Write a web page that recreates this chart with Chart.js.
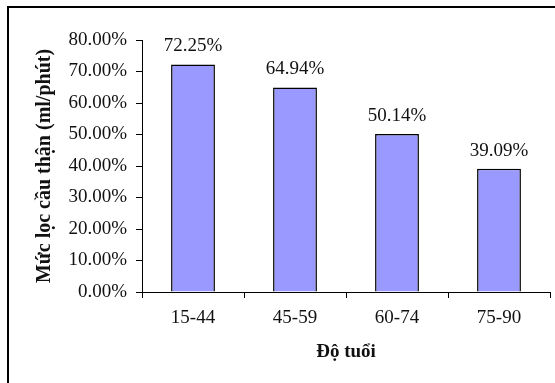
<!DOCTYPE html>
<html>
<head>
<meta charset="utf-8">
<script src="https://cdn.jsdelivr.net/npm/chart.js@4/dist/chart.umd.min.js"></script>
<style>
html,body{margin:0;padding:0;background:#fff;}
#wrap{width:555px;height:383px;position:relative;}
</style>
</head>
<body>
<div id="wrap"><canvas id="c" width="555" height="383"></canvas></div>
<script>
const categories = ['15-44', '45-59', '60-74', '75-90'];
const values = [72.25, 64.94, 50.14, 39.09];
const yTitle = 'Mức lọc cầu thận (ml/phút)';
const xTitle = 'Độ tuổi';

const FONT = "'Liberation Serif', 'Times New Roman', serif";
const INK = '#111';

const frame = {
  id: 'frame',
  beforeDraw(chart) {
    const ctx = chart.ctx;
    ctx.save();
    ctx.fillStyle = '#fff';
    ctx.fillRect(0, 0, chart.width, chart.height);
    ctx.strokeStyle = '#000';
    ctx.lineWidth = 2;
    ctx.beginPath();
    ctx.moveTo(8, chart.height + 2);
    ctx.lineTo(8, 7);
    ctx.lineTo(chart.width + 2, 7);
    ctx.stroke();
    ctx.restore();
  }
};

const valueLabels = {
  id: 'valueLabels',
  afterDatasetsDraw(chart) {
    const ctx = chart.ctx;
    const meta = chart.getDatasetMeta(0);
    ctx.save();
    ctx.font = '19px ' + FONT;
    ctx.fillStyle = INK;
    ctx.textAlign = 'center';
    ctx.textBaseline = 'middle';
    meta.data.forEach((bar, i) => {
      ctx.fillText(values[i].toFixed(2) + '%', bar.x, bar.y - 18);
    });
    ctx.restore();
  }
};

new Chart(document.getElementById('c'), {
  type: 'bar',
  data: {
    labels: categories,
    datasets: [{
      data: values,
      backgroundColor: '#9999FF',
      borderColor: '#000',
      borderWidth: 1.5,
      barPercentage: 0.43,
      categoryPercentage: 1.0
    }]
  },
  options: {
    responsive: false,
    animation: false,
    devicePixelRatio: 1,
    layout: { padding: { left: 33, right: 5, top: 40, bottom: 20 } },
    plugins: { legend: { display: false }, tooltip: { enabled: false } },
    scales: {
      y: {
        min: 0, max: 80,
        afterFit(s) { s.width = 109; },
        ticks: {
          stepSize: 10,
          padding: 9,
          color: INK,
          font: { family: FONT, size: 19 },
          callback: v => Number(v).toFixed(2) + '%'
        },
        grid: { drawOnChartArea: false, tickLength: 6, color: '#000', lineWidth: 1 },
        border: { color: '#000', width: 1 },
        title: {
          display: true, text: yTitle, color: INK,
          font: { family: FONT, size: 20, weight: 'bold' },
          padding: { top: 0, bottom: 0 }
        }
      },
      x: {
        afterFit(s) { s.height = 71; },
        ticks: {
          padding: 9,
          color: INK,
          font: { family: FONT, size: 19 }
        },
        grid: { drawOnChartArea: false, offset: true, tickLength: 6, color: '#000', lineWidth: 1 },
        border: { color: '#000', width: 1 },
        title: {
          display: true, text: xTitle, color: INK,
          font: { family: FONT, size: 19, weight: 'bold' },
          padding: { top: 0, bottom: 0 }
        }
      }
    }
  },
  plugins: [frame, valueLabels]
});
</script>
</body>
</html>
